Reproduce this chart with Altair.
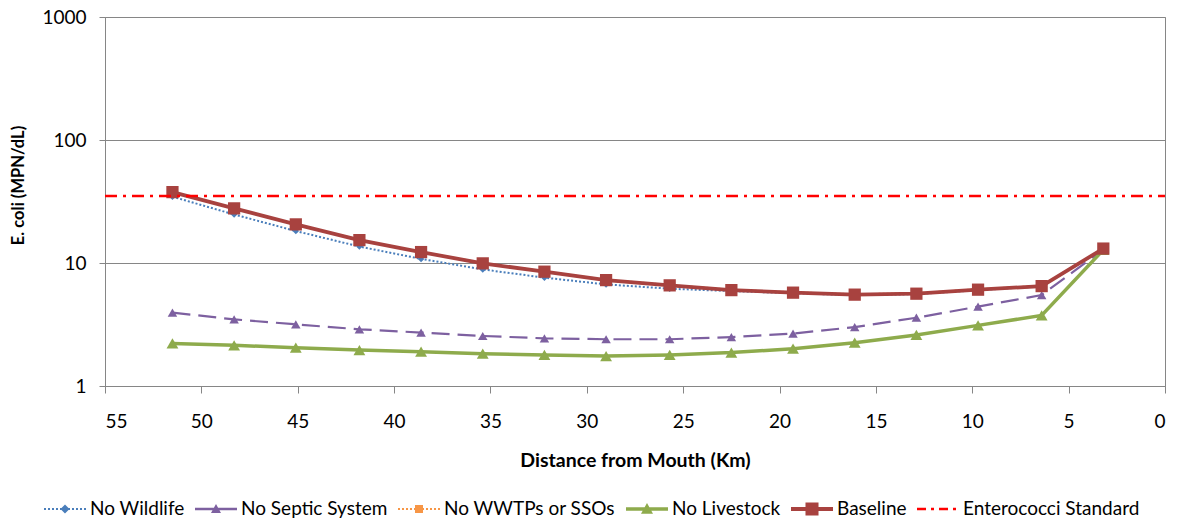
import altair as alt
import pandas as pd

# ---- data ----
distance_km = [51.5, 48.3, 45.1, 41.8, 38.6, 35.4, 32.2, 29.0, 25.7, 22.5, 19.3, 16.1, 12.9, 9.7, 6.4, 3.2]
no_wildlife = [34.6, 24.8, 18.2, 13.6, 10.8, 8.87, 7.60, 6.70, 6.18, 5.91, 5.68, 5.48, 5.58, 6.02, 6.45, 13.0]
no_septic = [3.95, 3.48, 3.17, 2.89, 2.72, 2.55, 2.44, 2.40, 2.40, 2.50, 2.67, 3.01, 3.59, 4.42, 5.49, 12.9]
no_wwtp = [37.9, 27.9, 20.7, 15.4, 12.3, 10.0, 8.55, 7.30, 6.62, 6.06, 5.78, 5.57, 5.68, 6.12, 6.53, 13.1]
no_livestock = [2.22, 2.14, 2.05, 1.96, 1.90, 1.83, 1.79, 1.75, 1.79, 1.87, 2.01, 2.25, 2.60, 3.11, 3.75, 12.8]
baseline = [37.7, 27.8, 20.6, 15.35, 12.27, 9.93, 8.50, 7.26, 6.58, 6.02, 5.74, 5.53, 5.63, 6.07, 6.49, 13.1]
standard_km = [55, 0]
standard_value = [35, 35]

series_names = ["No Wildlife", "No Septic System", "No WWTPs or SSOs",
                "No Livestock", "Baseline", "Enterococci Standard"]
x_ticks = [0, 5, 10, 15, 20, 25, 30, 35, 40, 45, 50, 55]
y_ticks = [1, 10, 100, 1000]

# ---- styles ----
FONT = "Lato"
GRAY = "#868686"
styles = {
    "No Wildlife": dict(color="#4A7EBB", dash=[2, 2], width=2, shape="diamond", size=42),
    "No Septic System": dict(color="#7D60A0", dash=[18, 8], width=2.2, shape="triangle-up", size=90),
    "No WWTPs or SSOs": dict(color="#F79646", dash=[2, 2], width=2, shape="square", size=42),
    "No Livestock": dict(color="#8EAB4C", dash=None, width=3.5, shape="triangle-up", size=140),
    "Baseline": dict(color="#A8423F", dash=None, width=3.8, shape="square", size=150),
    "Enterococci Standard": dict(color="#FF0000", dash=[12, 6, 3, 6], width=2.5, shape=None, size=0),
}

# ---- legend symbol paths (unit square [-1,1] = 42 px) ----
U = 1 / 21.0


def rect(x0, x1, h):
    return f"M{x0:.3f},{-h:.3f}H{x1:.3f}V{h:.3f}H{x0:.3f}Z"


def pattern_line(pattern_px, thick_px):
    out, pos, i = [], -21.0, 0
    while pos < 21.0:
        seg = pattern_px[i % len(pattern_px)]
        if i % 2 == 0:
            end = min(pos + seg, 21.0)
            out.append(rect(pos * U, end * U, thick_px / 2 * U))
        pos += seg
        i += 1
    return "".join(out)


def solid_line(thick_px):
    return rect(-1, 1, thick_px / 2 * U)


def diamond(r_px):
    r = r_px * U
    return f"M0,{-r:.3f}L{r:.3f},0L0,{r:.3f}L{-r:.3f},0Z"


def square(r_px):
    r = r_px * U
    return f"M{-r:.3f},{-r:.3f}H{r:.3f}V{r:.3f}H{-r:.3f}Z"


def triangle(r_px):
    r = r_px * U
    return f"M0,{-r:.3f}L{r:.3f},{0.8 * r:.3f}L{-r:.3f},{0.8 * r:.3f}Z"


legend_paths = [
    pattern_line([2, 2], 2) + diamond(4.5),
    solid_line(2.5) + triangle(5),
    pattern_line([2, 2], 2) + square(4),
    solid_line(3.5) + triangle(6),
    solid_line(4) + square(6.5),
    pattern_line([9, 5, 3, 5], 2.5),
]
legend_colors = [styles[n]["color"] for n in series_names]

# ---- encodings ----
x_enc = alt.X(
    "km:Q",
    scale=alt.Scale(domain=[0, 55], reverse=True, nice=False, zero=False),
    axis=alt.Axis(
        values=x_ticks, format="d", grid=False, title="Distance from Mouth (Km)",
        domainColor=GRAY, tickColor=GRAY, tickSize=7,
        labelFont=FONT, labelFontSize=19, labelColor="black",
        labelBaseline="alphabetic", labelPadding=34,
        titleFont=FONT, titleFontSize=19.5, titleFontWeight="bold", titleColor="black",
        titleBaseline="alphabetic", titleY=80,
    ),
)
y_enc = alt.Y(
    "value:Q",
    scale=alt.Scale(type="log", domain=[1, 1000], nice=False),
    axis=alt.Axis(
        values=y_ticks, format="d", grid=True, gridColor=GRAY, gridWidth=1,
        title="E. coli (MPN/dL)",
        domainColor=GRAY, tickColor=GRAY, tickSize=6,
        labelFont=FONT, labelFontSize=19, labelColor="black", labelPadding=13,
        titleFont=FONT, titleFontSize=16.5, titleFontWeight="bold", titleColor="black",
        titleX=-87, titleY=168, titleAngle=-90, titleBaseline="middle", titleAlign="center",
    ),
)

series_values = {
    "No Wildlife": (distance_km, no_wildlife),
    "No Septic System": (distance_km, no_septic),
    "No WWTPs or SSOs": (distance_km, no_wwtp),
    "No Livestock": (distance_km, no_livestock),
    "Baseline": (distance_km, baseline),
    "Enterococci Standard": (standard_km, standard_value),
}

layers = []
for name in series_names:
    xs, ys = series_values[name]
    st = styles[name]
    df = pd.DataFrame({"km": xs, "value": ys, "series": name})
    line_kwargs = dict(color=st["color"], strokeWidth=st["width"])
    if st["dash"]:
        line_kwargs["strokeDash"] = st["dash"]
    layers.append(alt.Chart(df).mark_line(**line_kwargs).encode(x=x_enc, y=y_enc))
    if st["shape"]:
        layers.append(
            alt.Chart(df).mark_point(
                filled=True, shape=st["shape"], size=st["size"], color=st["color"],
                opacity=1, strokeWidth=0,
            ).encode(x=x_enc, y=y_enc)
        )

legend_props = dict(
    orient="none", legendX=-61, legendY=471, direction="horizontal",
    title=None, symbolSize=1764, symbolStrokeWidth=0, symbolOpacity=1,
    labelFont=FONT, labelFontSize=19, labelColor="black", labelLimit=400,
    labelOffset=4, columnPadding=10, padding=0,
)

legend_df = pd.DataFrame({"series": series_names})
legend_layer = (
    alt.Chart(legend_df)
    .mark_point(filled=True, opacity=1)
    .encode(
        color=alt.Color(
            "series:N",
            scale=alt.Scale(domain=series_names, range=legend_colors),
            legend=alt.Legend(**legend_props),
        ),
        shape=alt.Shape(
            "series:N",
            scale=alt.Scale(domain=series_names, range=legend_paths),
            legend=alt.Legend(**legend_props),
        ),
    )
    .transform_filter("false")
)

chart = (
    alt.layer(*layers, legend_layer)
    .properties(
        width=1060, height=369,
        padding={"left": 105, "top": 17, "right": 19, "bottom": 137},
        autosize=alt.AutoSizeParams(type="none"),
        background="white",
    )
    .configure_view(stroke=GRAY, strokeWidth=1)
)

chart.save("out.html", embed_options={"renderer": "svg", "actions": False})
